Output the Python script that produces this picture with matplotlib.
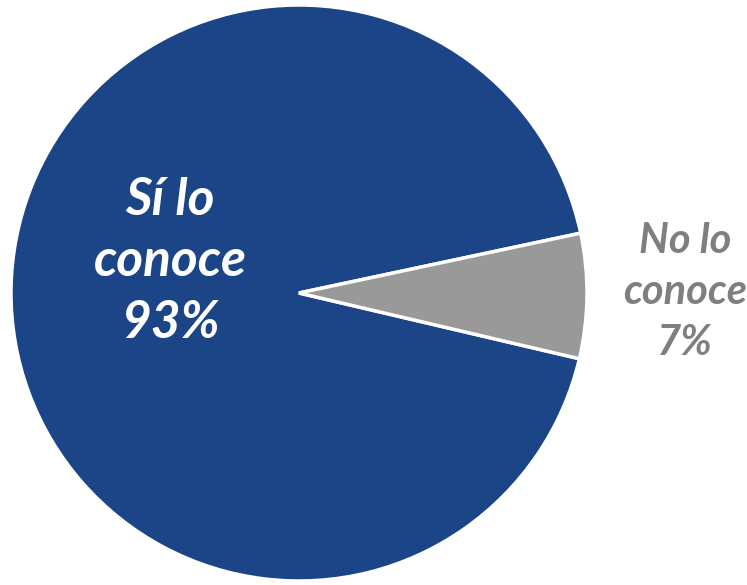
import matplotlib.pyplot as plt

labels = ["Sí lo\nconoce\n93%", "No lo\nconoce\n7%"]
values = [93, 7]
colors = ["#1B4587", "#999999"]

fig = plt.figure(figsize=(7.47, 5.85), dpi=100)
# pie centre ~ (299, 293) px, radius ~ 288 px
cx, cy, r = 299, 293, 288
ax = fig.add_axes([(cx - r) / 747, (585 - cy - r) / 585, 2 * r / 747, 2 * r / 585])
wedges, _ = ax.pie(values, colors=colors, startangle=12, counterclock=True,
                   wedgeprops=dict(edgecolor="white", linewidth=2.5))
ax.set_xlim(-1, 1)
ax.set_ylim(-1, 1)
ax.set_aspect("equal")
ax.axis("off")

# labels
fig.text(170 / 747, 1 - 262 / 585, labels[0], ha="center", va="center",
         color="white", fontsize=37, fontweight="bold", fontstyle="italic",
         family="Lato", linespacing=1.37)
fig.text(685 / 747, 1 - 292 / 585, labels[1], ha="center", va="center",
         color="#7F7F7F", fontsize=30, fontweight="bold", fontstyle="italic",
         family="Lato", linespacing=1.42)

plt.savefig("out.png", dpi=100)
